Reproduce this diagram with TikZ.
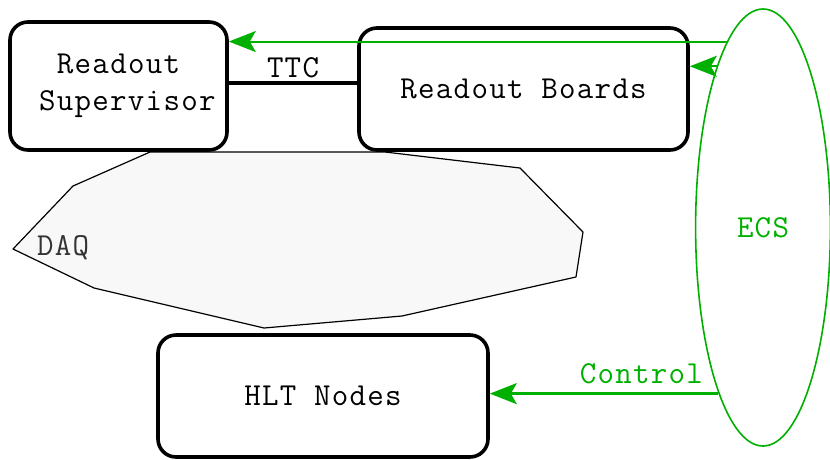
\documentclass[tikz,border=0pt]{standalone}
\usepackage{fontspec}
\usepackage{xcolor}
\usepackage{tikz}
\usetikzlibrary{positioning, shapes, arrows.meta, calc}

\newfontfamily\monofont[LetterSpace=4]{Latin Modern Mono}
\definecolor{ecsgreen}{RGB}{0,176,0}
\definecolor{daqgray}{RGB}{248,248,248}

\begin{document}
\begin{tikzpicture}[x=1pt, y=-1pt,
    every node/.style={font=\monofont\fontsize{32}{37}\selectfont},
    board/.style={draw, line width=3.6pt, rounded corners=18pt, inner sep=0pt},
    ecsarrow/.style={draw=ecsgreen, line width=2pt, -{Stealth[length=27pt, width=21pt, inset=6pt]}}]
          \useasboundingbox (0,0) rectangle (830,459);

          % the DAQ cloud
          \filldraw[fill=daqgray, draw=black, line width=1.2pt, line join=round]
            (13,249) -- (73,186) -- (150,152) -- (385,152) -- (520,168) -- (583,232)
            -- (576,277) -- (402,316) -- (264,328) -- (94,288) -- cycle;
          \node[anchor=base west, inner sep=0pt, text=black!80] (daq) at (37,255) {DAQ};

          \node[board, minimum width=217pt, minimum height=128pt, align=center] (rs) at (118.5,86) {Readout\\\ Supervisor};
          \node[board, minimum width=329pt, minimum height=122pt] (rb) at (523.5,89) {Readout Boards};
          \node[board, minimum width=330pt, minimum height=122pt] (hlt) at (323,396) {HLT Nodes};
          \node[draw=ecsgreen, line width=1.6pt, ellipse, minimum width=134.8pt, minimum height=437pt,
                inner sep=0pt, text=ecsgreen] (ecs) at (763,227.5) {ECS};

          \draw[line width=3.2pt] ([yshift=3pt]rs.east) -- ([yshift=3pt]rs.east -| rb.west)
            node[midway, anchor=base, yshift=6pt] {TTC};

          \draw[ecsarrow] (ecs.101) -- (rs.east |- ecs.101);
          \draw[ecsarrow] (ecs.106) -- (rb.east |- ecs.106);
          \draw[ecsarrow, line width=2.6pt] (ecs.255) -- (hlt.east |- ecs.255)
            node[pos=0, anchor=base east, xshift=-11pt, yshift=10pt, text=ecsgreen] {Control};
        \end{tikzpicture}
\end{document}
